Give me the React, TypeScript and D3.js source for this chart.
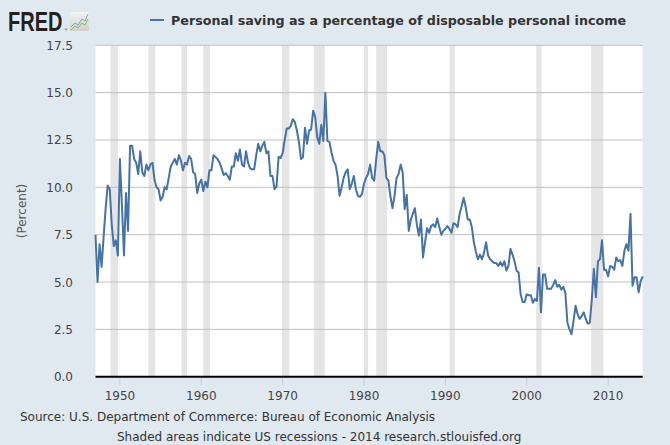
import React from "react";
import * as d3 from "d3";

// Quarterly personal saving rate (% of disposable personal income), 1947Q1 - 2014Q2
const startYear = 1947;
const saving1940s = [7.5, 5.0, 7.0, 5.8, 7.4, 8.9, 10.1, 9.9, 8.0, 6.9, 7.2, 6.4];
const saving1950s = [
  11.5, 9.0, 6.4, 9.7, 7.7, 12.2, 12.2, 11.5, 11.3, 10.7, 11.9, 10.8,
  10.6, 11.2, 10.9, 11.2, 11.3, 10.4, 10.0, 9.9, 9.3, 9.5, 10.0, 9.9,
  10.5, 11.1, 11.3, 11.5, 11.2, 11.7, 11.4, 10.9, 11.3, 11.2, 11.65, 11.5,
  10.8, 10.7, 9.7, 10.2,
];
const saving1960s = [
  10.4, 9.8, 10.3, 10.0, 10.9, 10.9, 11.7, 11.6, 11.5, 11.3, 11.0, 10.65,
  10.75, 10.6, 10.4, 11.1, 11.1, 11.8, 11.4, 12.0, 11.2, 11.1, 11.9, 11.3,
  11.0, 10.95, 10.95, 11.7, 12.3, 11.9, 12.2, 12.4, 11.8, 11.9, 10.6, 10.6,
  9.9, 10.05, 11.6, 11.55,
];
const saving1970s = [
  11.8, 12.5, 13.1, 13.1, 13.25, 13.6, 13.45, 13.0, 12.4, 11.5, 11.6, 13.15,
  12.3, 13.0, 13.05, 14.05, 13.7, 12.65, 12.3, 13.3, 12.45, 15.0, 12.45, 12.4,
  11.85, 11.4, 11.2, 10.6, 9.55, 10.0, 10.5, 10.8, 10.95, 9.9, 10.2, 10.6,
  9.9, 9.55, 9.5, 9.65,
];
const saving1980s = [
  10.2, 10.5, 10.7, 11.2, 10.5, 10.35, 11.5, 12.4, 11.9, 11.9, 11.7, 10.5,
  10.35, 9.5, 8.9, 9.55, 10.5, 10.7, 11.2, 10.8, 8.85, 9.6, 7.7, 8.3,
  8.6, 8.9, 8.0, 7.45, 8.3, 6.3, 7.1, 7.85, 7.6, 7.95, 8.05, 7.9,
  8.35, 7.9, 7.5, 7.7,
];
const saving1990s = [
  7.8, 7.95, 7.8, 7.6, 8.1, 8.05, 7.9, 8.6, 9.0, 9.45, 8.95, 8.3,
  8.3, 7.9, 7.1, 6.6, 6.2, 6.45, 6.2, 6.55, 7.1, 6.4, 6.2, 6.1,
  6.0, 6.0, 5.85, 6.05, 5.85, 6.1, 5.6, 5.85, 6.75, 6.45, 6.1, 5.6,
  5.5, 4.35, 3.95, 3.95,
];
const saving2000s = [
  4.35, 4.3, 4.3, 3.9, 4.1, 4.0, 5.75, 3.4, 5.4, 5.4, 4.65, 4.65,
  4.65, 4.85, 5.1, 4.75, 4.85, 4.6, 4.75, 4.4, 2.85, 2.5, 2.25, 2.95,
  3.75, 3.3, 3.05, 3.2, 3.4, 3.05, 2.8, 2.85, 4.1, 5.7, 4.2, 6.1,
  6.2, 7.2, 5.65, 5.65,
];
const saving2010s = [
  5.3, 5.85, 5.8, 5.65, 6.3, 6.1, 6.15, 5.85, 6.65, 7.0, 6.65, 8.6,
  4.8, 5.25, 5.25, 4.45, 5.05, 5.3,
];

const recessionStarts = [1948.83, 1953.5, 1957.58, 1960.25, 1969.92, 1973.83, 1980.0, 1981.5, 1990.5, 2001.17, 2007.92];
const recessionEnds = [1949.75, 1954.33, 1958.25, 1961.08, 1970.83, 1975.17, 1980.5, 1982.83, 1991.17, 2001.83, 2009.42];

const xTickYears = [1950, 1960, 1970, 1980, 1990, 2000, 2010];
const yTickValues = [0, 2.5, 5, 7.5, 10, 12.5, 15, 17.5];

const seriesTitle = "Personal saving as a percentage of disposable personal income";
const yAxisTitle = "(Percent)";
const sourceLine = "Source: U.S. Department of Commerce: Bureau of Economic Analysis";
const noteLine = "Shaded areas indicate US recessions - 2014 research.stlouisfed.org";

const W = 670;
const H = 445;
const plot = { left: 95.5, right: 642.7, top: 45.3, bottom: 376.7 };
const FONT = "'DejaVu Sans', Verdana, sans-serif";

export default function App() {
  const values = [
    ...saving1940s,
    ...saving1950s,
    ...saving1960s,
    ...saving1970s,
    ...saving1980s,
    ...saving1990s,
    ...saving2000s,
    ...saving2010s,
  ];
  const data = values.map((v, i) => ({ t: startYear + i / 4, v }));
  const lastT = data[data.length - 1].t;

  const x = d3.scaleLinear().domain([startYear, lastT]).range([plot.left, plot.right]);
  const y = d3.scaleLinear().domain([0, 17.5]).range([plot.bottom, plot.top]);

  const line = d3
    .line<{ t: number; v: number }>()
    .x((d) => x(d.t))
    .y((d) => y(d.v));

  const fmt = d3.format(".1f");

  return (
    <div style={{ position: "fixed", left: 0, top: 0, width: W, height: H }}>
      <svg width={W} height={H} style={{ display: "block" }}>
        <rect x={0} y={0} width={W} height={H} fill="#e1e9f0" />

        {/* FRED logo */}
        <text
          transform="translate(8,31) scale(1,1.35)"
          fontFamily="'Liberation Sans', Arial, sans-serif"
          fontWeight="bold"
          fontSize={20}
          fill="#231f20"
        >
          FRED
        </text>
        <text x={64.5} y={31} fontFamily="'Liberation Sans', Arial, sans-serif" fontSize={4} fill="#231f20">®</text>
        <defs>
          <linearGradient id="iconGrad" x1="0" y1="0" x2="0" y2="1">
            <stop offset="0" stopColor="#f4f4f4" />
            <stop offset="1" stopColor="#cfcfcf" />
          </linearGradient>
        </defs>
        <rect x={70} y={12} width={19} height={19} fill="url(#iconGrad)" rx={1} />
        <path d="M71,27 L75,23 L78,25 L82,19 L85,21 L88,14" fill="none" stroke="#6b9bd1" strokeWidth={0.9} />
        <path d="M71,30 L75,26 L78,28 L82,23 L85,25 L88,19" fill="none" stroke="#7cb342" strokeWidth={0.9} />

        {/* legend */}
        <line x1={150} x2={164} y1={20} y2={20} stroke="#4572a7" strokeWidth={2} />
        <text
          x={171}
          y={24.5}
          fontFamily={FONT}
          fontWeight="bold"
          fontSize={13}
          fill="#333333"
          textLength={455}
          lengthAdjust="spacingAndGlyphs"
        >
          {seriesTitle}
        </text>

        {/* plot background */}
        <rect x={plot.left} y={plot.top} width={plot.right - plot.left} height={plot.bottom - plot.top} fill="#ffffff" />

        {/* recession shading */}
        {recessionStarts.map((s, i) => {
          const x0 = Math.max(x(s), plot.left);
          const x1 = Math.min(x(recessionEnds[i]), plot.right);
          return <rect key={"r" + i} x={x0} y={plot.top} width={x1 - x0} height={plot.bottom - plot.top} fill="#e5e5e5" />;
        })}

        {/* grid lines */}
        {yTickValues
          .filter((v) => v > 0)
          .map((v) => (
            <line key={"g" + v} x1={plot.left} x2={plot.right} y1={y(v)} y2={y(v)} stroke="#c0c0c0" strokeWidth={1} />
          ))}

        {/* y tick labels */}
        {yTickValues.map((v) => (
          <text key={"yl" + v} x={73} y={y(v) + 4.5} textAnchor="end" fontFamily={FONT} fontSize={12} fill="#444444">
            {fmt(v)}
          </text>
        ))}

        {/* y axis title */}
        <text
          transform={`translate(26,${(plot.top + plot.bottom) / 2}) rotate(-90)`}
          textAnchor="middle"
          fontFamily={FONT}
          fontSize={12}
          fill="#555555"
        >
          {yAxisTitle}
        </text>

        {/* series line */}
        <path d={line(data) || ""} fill="none" stroke="#4572a7" strokeWidth={2} strokeLinejoin="round" />

        {/* x ticks */}
        {xTickYears.map((yr) => (
          <g key={"xt" + yr}>
            <line x1={x(yr)} x2={x(yr)} y1={plot.bottom} y2={plot.bottom + 9} stroke="#c0d0e0" strokeWidth={1} />
            <text x={x(yr)} y={400} textAnchor="middle" fontFamily={FONT} fontSize={12} fill="#444444">
              {yr}
            </text>
          </g>
        ))}

        {/* x axis baseline */}
        <line x1={plot.left} x2={plot.right} y1={plot.bottom} y2={plot.bottom} stroke="#000000" strokeWidth={2} />

        {/* footer */}
        <text x={20} y={421} fontFamily={FONT} fontSize={12} fill="#333333">
          {sourceLine}
        </text>
        <text x={117} y={441} fontFamily={FONT} fontSize={12} fill="#333333">
          {noteLine}
        </text>
      </svg>
    </div>
  );
}
